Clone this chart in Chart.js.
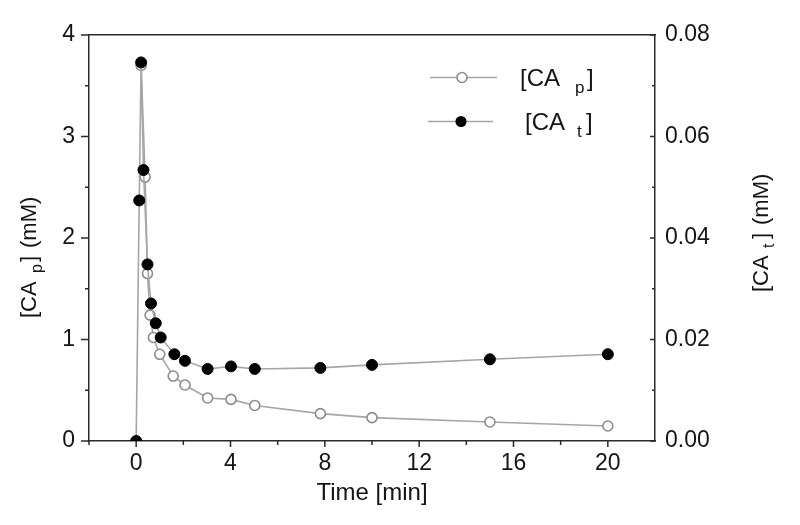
<!DOCTYPE html>
<html>
<head>
<meta charset="utf-8">
<script src="https://cdn.jsdelivr.net/npm/chart.js@4/dist/chart.umd.min.js"></script>
<style>
html,body{margin:0;padding:0;background:#fff;}
#wrap{width:800px;height:525px;}
</style>
</head>
<body>
<div id="wrap"><canvas id="c" width="800" height="525"></canvas></div>
<script>
// ---- data ----
const timeP = [0.21, 0.38, 0.48, 0.59, 0.73, 1.0, 1.57, 2.07, 3.03, 4.02, 5.03, 7.81, 10, 15, 20];
const caP   = [3.70, 2.60, 1.65, 1.24, 1.02, 0.854, 0.64, 0.552, 0.424, 0.41, 0.35, 0.27, 0.23, 0.187, 0.148];
const timeT = [0, 0.13, 0.21, 0.31, 0.48, 0.63, 0.83, 1.04, 1.62, 2.07, 3.03, 4.02, 5.03, 7.81, 10, 15, 20];
const caT   = [0, 0.0474, 0.0746, 0.0534, 0.0348, 0.0271, 0.0232, 0.0204, 0.0171, 0.0158, 0.0142, 0.0147, 0.0142, 0.0144, 0.0150, 0.0161, 0.0171];
const xTicks  = [0, 4, 8, 12, 16, 20];
const xMinor  = [-2, 2, 6, 10, 14, 18];
const yTicks  = [0, 1, 2, 3, 4];
const yMinor  = [0.5, 1.5, 2.5, 3.5];
const y2Ticks = [0, 0.02, 0.04, 0.06, 0.08];
const y2Minor = [0.01, 0.03, 0.05, 0.07];

const FONT = '"Liberation Sans", Arial, Helvetica, sans-serif';
const INK = '#141414';
const AXIS = '#2a2a2a';

function pts(xs, ys){ return xs.map((x,i)=>({x:x, y:ys[i]})); }

const decor = {
  id:'decor',
  afterDraw(chart){
    const ctx = chart.ctx;
    const {x, y, y2} = chart.scales;
    const a = chart.chartArea;
    ctx.save();
    ctx.strokeStyle = AXIS;
    ctx.lineWidth = 1.5;
    ctx.beginPath();
    // bottom ticks (outward)
    xTicks.forEach(v=>{const p=x.getPixelForValue(v); ctx.moveTo(p,a.bottom); ctx.lineTo(p,a.bottom+6);});
    xMinor.forEach(v=>{const p=x.getPixelForValue(v); ctx.moveTo(p,a.bottom); ctx.lineTo(p,a.bottom+4);});
    // left ticks (outward)
    yTicks.forEach(v=>{const p=y.getPixelForValue(v); ctx.moveTo(a.left,p); ctx.lineTo(a.left-8,p);});
    yMinor.forEach(v=>{const p=y.getPixelForValue(v); ctx.moveTo(a.left,p); ctx.lineTo(a.left-4,p);});
    // right ticks (inward)
    y2Ticks.forEach(v=>{const p=y2.getPixelForValue(v); ctx.moveTo(a.right,p); ctx.lineTo(a.right-5,p);});
    y2Minor.forEach(v=>{const p=y2.getPixelForValue(v); ctx.moveTo(a.right,p); ctx.lineTo(a.right-3,p);});
    ctx.stroke();

    ctx.fillStyle = INK;
    ctx.textBaseline = 'alphabetic';
    ctx.textAlign = 'left';
    function sub(parts, x0, y0){
      parts.forEach(p=>{ ctx.font = p[1]+'px '+FONT; ctx.fillText(p[0], x0+p[2], y0+p[3]); });
    }
    // x title
    ctx.font = '24px '+FONT;
    ctx.textAlign = 'center';
    ctx.fillText('Time [min]', (a.left+a.right)/2, 500);
    ctx.textAlign = 'left';

    // left title (rotated)
    ctx.save();
    ctx.translate(36, 318);
    ctx.rotate(-Math.PI/2);
    sub([['[CA',22,0,0],['p',16,45,6],[']',22,56,0],['(mM)',22,70,0]],0,0);
    ctx.restore();
    // right title (rotated)
    ctx.save();
    ctx.translate(768, 292);
    ctx.rotate(-Math.PI/2);
    sub([['[CA',22,0,0],['t',16,44,6],[']',22,53,0],['(mM)',22,67,0]],0,0);
    ctx.restore();

    // legend
    ctx.lineWidth = 1.6;
    ctx.strokeStyle = '#a6a6a6';
    ctx.beginPath(); ctx.moveTo(430,77.5); ctx.lineTo(497,77.5); ctx.stroke();
    ctx.beginPath(); ctx.moveTo(428,121.5); ctx.lineTo(493,121.5); ctx.stroke();
    ctx.beginPath(); ctx.arc(462,77.5,5,0,Math.PI*2); ctx.fillStyle='#fff'; ctx.fill();
    ctx.strokeStyle='#8c8c8c'; ctx.lineWidth=1.6; ctx.stroke();
    ctx.beginPath(); ctx.arc(461,121.5,5.5,0,Math.PI*2); ctx.fillStyle='#000'; ctx.fill();
    ctx.fillStyle = INK;
    sub([['[CA',24,0,0],['p',17,55,7],[']',24,67,0]],520,86);
    sub([['[CA',24,0,0],['t',17,52,7],[']',24,61,0]],525,130);
    ctx.restore();
  }
};

const tickFont = {family: FONT, size: 23};

new Chart(document.getElementById('c'), {
  type: 'scatter',
  data: {
    datasets: [
      {
        label: '[CA t ]',
        data: pts(timeT, caT),
        yAxisID: 'y2',
        showLine: true,
        borderColor: '#a6a6a6',
        borderWidth: 1.6,
        pointRadius: 5.5,
        pointBackgroundColor: '#000',
        pointBorderColor: '#000',
        pointBorderWidth: 1,
        order: 0
      },
      {
        label: '[CA p ]',
        data: pts(timeP, caP),
        yAxisID: 'y',
        showLine: true,
        borderColor: '#a6a6a6',
        borderWidth: 1.6,
        pointRadius: 5,
        pointBackgroundColor: '#fff',
        pointBorderColor: '#8c8c8c',
        pointBorderWidth: 1.6,
        order: 1
      }
    ]
  },
  options: {
    responsive: false,
    animation: false,
    layout: {padding: 0},
    plugins: {legend: {display: false}, tooltip: {enabled: false}},
    scales: {
      x: {
        type: 'linear', position: 'bottom', min: -2, max: 22,
        afterBuildTicks: s => { s.ticks = xTicks.map(v => ({value: v})); },
        afterFit: s => { s.height = 84; },
        ticks: {font: tickFont, color: INK, padding: 9, maxRotation: 0, callback: v => String(v)},
        grid: {display: true, drawOnChartArea: false, drawTicks: false},
        border: {display: true, color: AXIS, width: 1.5}
      },
      xTop: {
        type: 'linear', position: 'top', min: -2, max: 22,
        afterFit: s => { s.height = 35; },
        ticks: {display: false},
        grid: {display: true, drawOnChartArea: false, drawTicks: false},
        border: {display: true, color: AXIS, width: 1.5}
      },
      y: {
        type: 'linear', position: 'left', min: 0, max: 4,
        afterBuildTicks: s => { s.ticks = yTicks.map(v => ({value: v})); },
        afterFit: s => { s.width = 89; },
        ticks: {font: tickFont, color: INK, padding: 14, callback: v => String(v)},
        grid: {display: true, drawOnChartArea: false, drawTicks: false},
        border: {display: true, color: AXIS, width: 1.5}
      },
      y2: {
        type: 'linear', position: 'right', min: 0, max: 0.08,
        afterBuildTicks: s => { s.ticks = y2Ticks.map(v => ({value: v})); },
        afterFit: s => { s.width = 145; },
        ticks: {font: tickFont, color: INK, padding: 10, callback: v => v.toFixed(2)},
        grid: {display: true, drawOnChartArea: false, drawTicks: false},
        border: {display: true, color: AXIS, width: 1.5}
      }
    }
  },
  plugins: [decor]
});
</script>
</body>
</html>
